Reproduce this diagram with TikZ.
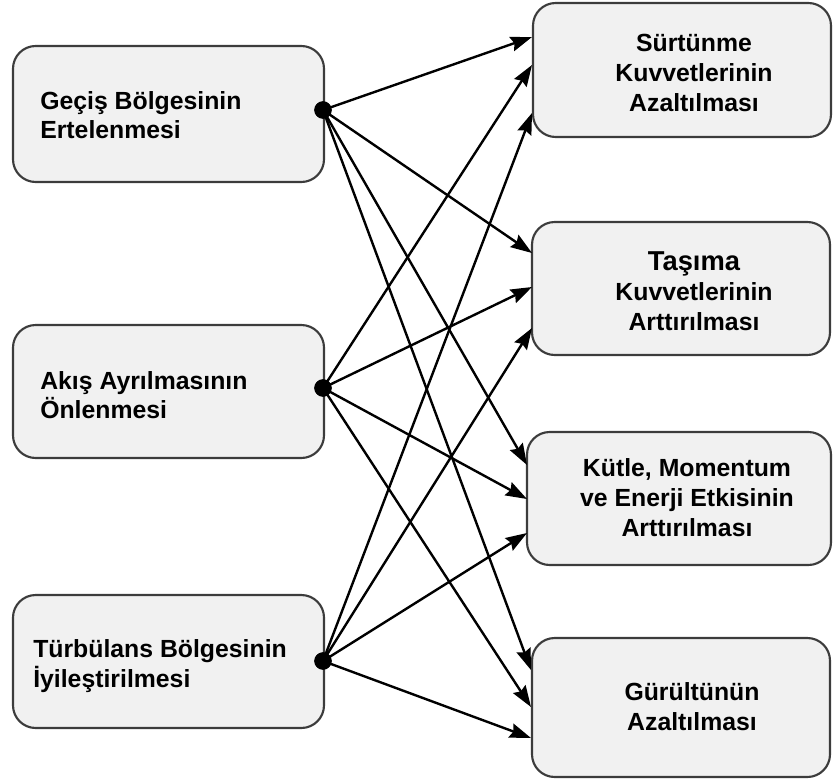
\documentclass[tikz,border=0pt]{standalone}
\usepackage{fontspec}
\setmainfont{Liberation Sans}
\usetikzlibrary{arrows.meta}
\definecolor{boxfill}{HTML}{F1F1F1}
\definecolor{boxline}{HTML}{3C3C3C}
\begin{document}
\begin{tikzpicture}[x=0.75pt,y=-0.75pt,
  box/.style={draw=boxline, line width=1.6pt, fill=boxfill, rounded corners=17pt, inner sep=0pt},
  ltext/.style={align=left, font=\bfseries\fontsize{18.6}{22}\selectfont, anchor=west, inner sep=0pt, text=black},
  rtext/.style={align=center, font=\bfseries\fontsize{18.6}{22.5}\selectfont, inner sep=0pt, text=black},
  dotnode/.style={circle, fill=black, minimum size=13pt, inner sep=0pt},
  conn/.style={line width=1.8pt, -{Stealth[length=16pt,width=11pt,inset=2pt]}}]
\useasboundingbox (0,0) rectangle (834,778);

% left boxes
\node[box, minimum width=233.25pt, minimum height=102pt] (l1) at (168.5,114) {};
\node[box, minimum width=233.25pt, minimum height=99.75pt] (l2) at (168.5,391.5) {};
\node[box, minimum width=233.25pt, minimum height=99.75pt] (l3) at (168.5,661.5) {};
\node[ltext] (l1t) at (40,115) {Geçiş Bölgesinin\\Ertelenmesi};
\node[ltext] (l2t) at (40,395) {Akış Ayrılmasının\\Önlenmesi};
\node[ltext] (l3t) at (33,666) {Türbülans Bölgesinin\\İyileştirilmesi};

% right boxes
\node[box, minimum width=223.5pt, minimum height=100.5pt] (r1) at (682,70) {};
\node[box, minimum width=223.5pt, minimum height=99.75pt] (r2) at (681,288.5) {};
\node[box, minimum width=228pt, minimum height=99.75pt] (r3) at (679,498.5) {};
\node[box, minimum width=223.5pt, minimum height=104.25pt] (r4) at (681,707.5) {};
\node[rtext] (r1t) at (694,73) {Sürtünme\\Kuvvetlerinin\\Azaltılması};
\node[rtext] (r2t) at (694,291) {{\fontsize{20.5}{22.5}\selectfont Taşıma}\\Kuvvetlerinin\\Arttırılması};
\node[rtext] (r3t) at (687,498) {Kütle, Momentum\\ve Enerji Etkisinin\\Arttırılması};
\node[rtext] (r4t) at (692,707) {Gürültünün\\Azaltılması};

% arrow end points
\coordinate (r1a) at (532,37);
\coordinate (r1b) at (532,65);
\coordinate (r1c) at (532,113);
\coordinate (r2a) at (532,253);
\coordinate (r2b) at (532,287);
\coordinate (r2c) at (532,328);
\coordinate (r3a) at (527,465);
\coordinate (r3b) at (527,499);
\coordinate (r3c) at (527,533);
\coordinate (r4a) at (531,670);
\coordinate (r4b) at (531,707);
\coordinate (r4c) at (531,738);

% dots
\node[dotnode] (d1) at (323,110) {};
\node[dotnode] (d2) at (323,388) {};
\node[dotnode] (d3) at (323,661) {};

% connectors
\foreach \s/\t in {d1/r1a, d1/r2a, d1/r3a, d1/r4a,
                   d2/r1b, d2/r2b, d2/r3b, d2/r4b,
                   d3/r1c, d3/r2c, d3/r3c, d3/r4c}
  \draw[conn] (\s.center) -- (\t);

\node[dotnode] at (d1) {};
\node[dotnode] at (d2) {};
\node[dotnode] at (d3) {};
\end{tikzpicture}
\end{document}
